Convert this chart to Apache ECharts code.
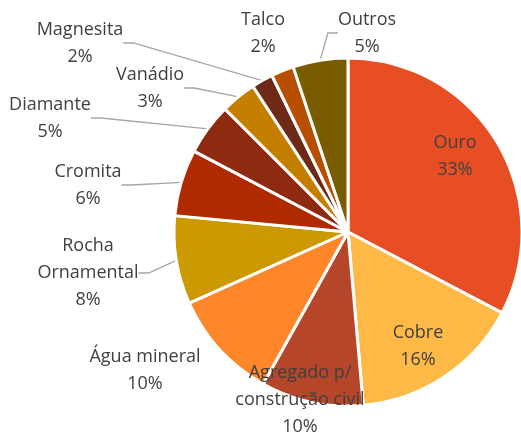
<!DOCTYPE html>
<html>
<head>
<meta charset="utf-8">
<script src="https://cdn.jsdelivr.net/npm/echarts@6/dist/echarts.min.js"></script>
<style>html,body{margin:0;padding:0;background:#fff}#c{width:521px;height:432px}</style>
</head>
<body>
<div id="c"></div>
<script>
var categories = ['Ouro', 'Cobre', 'Agregado p/\nconstrução civil', 'Água mineral', 'Rocha\nOrnamental', 'Cromita', 'Diamante', 'Vanádio', 'Magnesita', 'Talco', 'Outros'];
var values = [32.7, 15.9, 9.5, 10.2, 8.2, 6.2, 4.8, 3.3, 2.0, 2.1, 5.1];
var colors = ['#E84E24', '#FFB946', '#B5462A', '#FF8629', '#CC9900', '#B02A00', '#8E2A10', '#C47F00', '#6E2A16', '#B84E00', '#7A5C00'];
var labelPos = [[455,156],[418,346],[300,400],[145,370],[88,273],[88,185],[50,118],[150,88],[80,43],[263,33],[367,33]];
var noLine = {0:1,1:1,2:1,3:1,9:1};

var data = categories.map(function(n, i){
  return {
    name: n, value: values[i],
    itemStyle: {color: colors[i]},
    labelLine: {show: !noLine[i]}
  };
});

var chart = echarts.init(document.getElementById('c'));
chart.setOption({
  animation: false,
  series: [{
    type: 'pie',
    center: [348, 232],
    radius: 174,
    startAngle: 90,
    clockwise: true,
    data: data,
    avoidLabelOverlap: false,
    itemStyle: {borderColor: '#fff', borderWidth: 3},
    label: {
      show: true,
      position: 'outside',
      alignTo: 'none',
      overflow: 'none',
      fontFamily: 'Open Sans',
      fontSize: 18,
      lineHeight: 27,
      color: '#404040',
      align: 'center',
      formatter: function(p){ return p.name + '\n' + Math.round(p.percent) + '%'; }
    },
    labelLine: {show: true, lineStyle: {color: '#A6A6A6', width: 1.3}, length: 10, length2: 10},
    labelLayout: function(p){
      var pos = labelPos[p.dataIndex];
      return {x: pos[0], y: pos[1], align: 'center', verticalAlign: 'middle', hideOverlap: false, moveOverlap: null};
    }
  }]
});
</script>
</body>
</html>
